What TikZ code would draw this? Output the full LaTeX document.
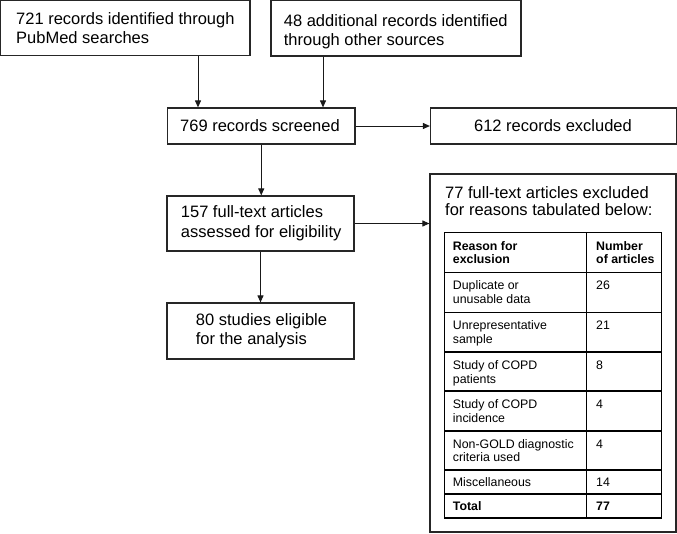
\documentclass[tikz,border=0pt]{standalone}
\usepackage{fontspec}
\setmainfont{Liberation Sans}
\usetikzlibrary{arrows.meta}
\newcommand{\mlines}[1]{\begin{tabular}[t]{@{}l@{}}#1\end{tabular}}
\begin{document}
\begin{tikzpicture}[x=1pt,y=-1pt,
  boxnode/.style={draw=black!85,line width=1.2pt,rectangle,inner sep=0pt},
  bigtext/.style={inner sep=0pt,font=\fontsize{16.5}{19.5}\selectfont},
  titletext/.style={inner sep=0pt,font=\fontsize{16.5}{17}\selectfont},
  celltext/.style={inner sep=0pt,anchor=base west,font=\fontsize{12.35}{13.7}\selectfont},
  headtext/.style={celltext,font=\fontsize{12.35}{13.7}\selectfont\bfseries},
  arr/.style={draw=black!90,line width=1pt,-{Triangle[length=7pt,width=6pt]}},
  tline/.style={draw=black,line width=1.1pt}]
\useasboundingbox (0,0) rectangle (677,533);

% boxes
\node[boxnode,minimum width=249.3pt,minimum height=54.8pt] (b1) at (125.35,28.1) {};
\node[boxnode,minimum width=250pt,minimum height=55.3pt] (b2) at (396,28.35) {};
\node[boxnode,minimum width=187.5pt,minimum height=36pt] (b3) at (261.25,126) {};
\node[boxnode,minimum width=246pt,minimum height=36pt] (b4) at (553.5,126) {};
\node[boxnode,minimum width=187pt,minimum height=55pt] (b5) at (260.5,223.5) {};
\node[boxnode,minimum width=187pt,minimum height=56pt] (b6) at (260.5,331) {};
\node[boxnode,minimum width=246pt,minimum height=358pt] (big) at (553,353) {};

% box texts
\node[bigtext,anchor=base west] (t1) at (16,24) {\mlines{721 records identified through\\PubMed searches}};
\node[bigtext,anchor=base west] (t2) at (283.7,26) {\mlines{48 additional records identified\\through other sources}};
\node[bigtext,anchor=base] (t3) at (260,131) {769 records screened};
\node[bigtext,anchor=base] (t4) at (553,131) {612 records excluded};
\node[bigtext,anchor=base west] (t5) at (180.7,217.5) {\mlines{157 full-text articles\\assessed for eligibility}};
\node[bigtext,anchor=base west] (t6) at (195.7,325) {\mlines{80 studies eligible\\for the analysis}};
\node[titletext,anchor=base west] (t7) at (445,198) {\mlines{77 full-text articles excluded\\for reasons tabulated below:}};

% table
\coordinate (tl) at (444.3,232.3);
\coordinate (br) at (661.7,518);
\coordinate (cs) at (586.7,0);
\draw[tline] (tl) rectangle (br);
\draw[tline] (cs |- tl) -- (cs |- br);
\foreach \y in {272.3,312.3,352,391,431,470,494}{
  \draw[tline] (444.3,\y) -- (661.7,\y);
}
\node[headtext] (h1) at (452.7,250) {\mlines{Reason for\\exclusion}};
\node[headtext] (h2) at (596,250) {\mlines{Number\\of articles}};
\node[celltext] (r1a) at (452.7,289.5) {\mlines{Duplicate or\\unusable data}};
\node[celltext] (r1b) at (596,289.5) {26};
\node[celltext] (r2a) at (452.7,329.5) {\mlines{Unrepresentative\\sample}};
\node[celltext] (r2b) at (596,329.5) {21};
\node[celltext] (r3a) at (452.7,369.3) {\mlines{Study of COPD\\patients}};
\node[celltext] (r3b) at (596,369.3) {8};
\node[celltext] (r4a) at (452.7,408.5) {\mlines{Study of COPD\\incidence}};
\node[celltext] (r4b) at (596,408.5) {4};
\node[celltext] (r5a) at (452.7,448) {\mlines{Non-GOLD diagnostic\\criteria used}};
\node[celltext] (r5b) at (596,448) {4};
\node[celltext] (r6a) at (452.7,486) {Miscellaneous};
\node[celltext] (r6b) at (596,486) {14};
\node[headtext] (r7a) at (452.7,510) {Total};
\node[headtext] (r7b) at (596,510) {77};

% connectors
\coordinate (x1) at (198,0);
\coordinate (x2) at (323,0);
\draw[arr] (x1 |- b1.south) -- (x1 |- b3.north);
\draw[arr] (x2 |- b2.south) -- (x2 |- b3.north);
\draw[arr] (b3.east) -- (b4.west);
\draw[arr] (b3.south) -- (b3.south |- b5.north);
\draw[arr] (b5.east) -- (b5.east -| big.west);
\draw[arr] (b5.south) -- (b6.north);
\end{tikzpicture}
\end{document}
